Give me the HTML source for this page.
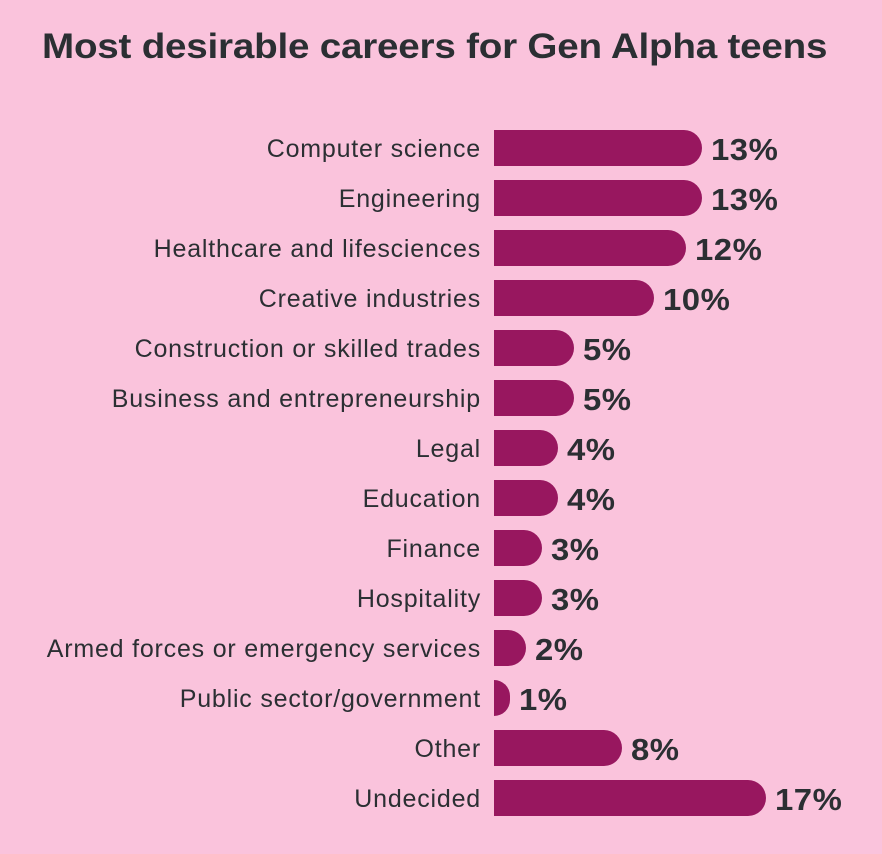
<!DOCTYPE html>
<html><head><style>
body{margin:0;width:882px;height:854px;background:#fac3dc;font-family:"Liberation Sans",sans-serif;position:relative;overflow:hidden}
h1{position:absolute;left:42px;top:27px;margin:0;font-size:35px;font-weight:bold;color:#2b2f33;letter-spacing:-0.2px;white-space:nowrap;transform:scaleX(1.103);transform-origin:0 0}
.r{position:absolute;left:0;height:36px;width:882px}
.l{position:absolute;right:401px;top:1px;line-height:36px;font-size:25px;color:#2b2f33;white-space:nowrap;letter-spacing:0.8px}
.b{position:absolute;left:494px;top:0;height:36px;background:#98175f;border-radius:0 18px 18px 0}
.v{position:absolute;top:1px;line-height:38px;font-size:31px;font-weight:bold;color:#2b2f33;letter-spacing:0.5px;transform:scaleX(1.06);transform-origin:0 0}
</style></head><body>
<h1>Most desirable careers for Gen Alpha teens</h1>
<div id="c"></div>
<script>
var d=[["Computer science",13],["Engineering",13],["Healthcare and lifesciences",12],["Creative industries",10],["Construction or skilled trades",5],["Business and entrepreneurship",5],["Legal",4],["Education",4],["Finance",3],["Hospitality",3],["Armed forces or emergency services",2],["Public sector/government",1],["Other",8],["Undecided",17]];
var h="";d.forEach(function(e,i){var w=e[1]*16;h+='<div class="r" style="top:'+(130+i*50)+'px"><div class="l">'+e[0]+'</div><div class="b" style="width:'+w+'px"></div><div class="v" style="left:'+(494+w+9)+'px">'+e[1]+'%</div></div>';});
document.getElementById("c").innerHTML=h;
</script>
</body></html>
